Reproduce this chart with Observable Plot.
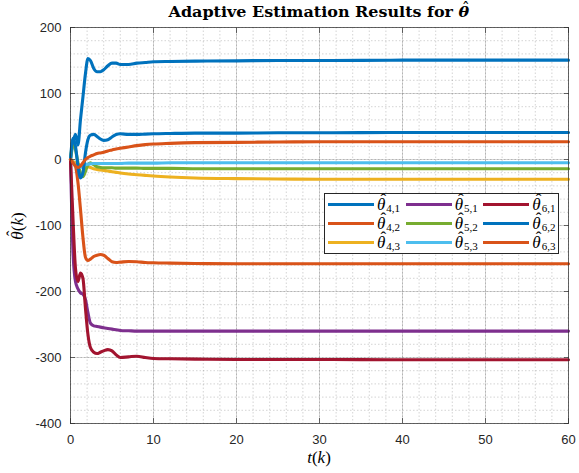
<!DOCTYPE html>
<html><head><meta charset="utf-8">
<script src="https://cdn.jsdelivr.net/npm/d3@7"></script>
<script src="https://cdn.jsdelivr.net/npm/@observablehq/plot@0.6"></script>
<style>
html,body{margin:0;padding:0;background:#fff;}
#fig{position:relative;width:579px;height:473px;overflow:hidden;background:#fff;}
#fig svg{position:absolute;left:0;top:0;}
.title{position:absolute;left:70px;width:498px;top:4px;text-align:center;font:bold 14px "DejaVu Serif",serif;color:#000;white-space:nowrap;}
.title > span.tt{display:inline-block;transform:scaleX(1.14);}
.m{font-family:"Liberation Serif",serif;color:#000;}
.i{font-style:italic;}
.hat{position:relative;display:inline-block;font-style:italic;}
.hat::after{content:"\02C6";position:absolute;left:0.2em;top:-0.3em;font-style:normal;font-weight:normal;}
.xl{position:absolute;left:70px;width:498px;top:448px;text-align:center;font-size:17px;}
.yl{position:absolute;left:18px;top:226px;transform:translate(-50%,-50%) rotate(-90deg);font-size:17px;white-space:nowrap;}
.legend{position:absolute;left:324px;top:193px;width:235px;height:61px;border:1px solid #262626;background:#fff;display:grid;grid-template-rows:repeat(3,1fr);grid-template-columns:repeat(3,1fr);grid-auto-flow:column;box-sizing:border-box;padding:1px 0;}
.item{display:flex;align-items:center;font-size:17px;line-height:1;}
.sw{width:46px;height:3px;margin-left:3px;margin-right:3px;flex:none;}
.sub{font-size:11px;font-style:normal;position:relative;top:4px;margin-left:1px;}
</style>
</head><body>
<div id="fig"></div>
<script>
// time grid (shared by all series)
const T = [0, 0.3, 0.6, 0.9, 1.2, 1.5, 1.8, 2.1, 2.4, 2.8, 3.2, 3.6, 4.0, 4.5, 5.0, 5.5, 6.0, 7, 8, 9, 10, 12, 15, 20, 25, 30, 40, 50, 60];

// series values
const th41 = [0, 25, 38, 22, 60, 95, 130, 153, 150, 138, 133, 133, 136, 142, 146, 146, 144, 144, 146, 147, 148, 148.5, 149, 149.5, 150, 150, 150.5, 150.5, 150.5];
const th42 = [0, -5, -10, -35, -75, -118, -148, -153, -151, -147, -145, -144, -145, -150, -155, -156, -155.5, -154.5, -155, -156, -156.5, -157, -157.5, -158, -158, -158, -158, -158, -158];
const th43 = [0, -3, -5, -7, -9, -10, -10, -11, -12, -14, -15, -16, -16.5, -17.5, -18.5, -19.5, -20.5, -22, -23, -24, -25, -26.5, -28, -29, -29.5, -30, -30, -30, -30];
const th51 = [0, -140, -185, -196, -202, -204, -212, -232, -248, -252, -253, -254, -255, -256, -257, -258, -259, -259.5, -260, -260, -260, -260, -260, -260, -260, -260, -260, -260, -260];
const th52 = [0, 25, 15, -5, -20, -26, -18, -8, -5, -8, -11, -12, -12.5, -12.5, -12.5, -13, -13, -13, -13, -13.5, -13.5, -13.5, -14, -14, -14, -14, -14, -14, -14];
const th53 = [0, -5, -10, -12, -12, -10, -8, -7, -6.5, -6, -6, -6, -6, -6, -6, -6, -6, -5.5, -5.5, -5.5, -5.5, -5, -5, -5, -5, -5, -5, -5, -5];
const th61 = [0, -90, -165, -185, -172, -180, -225, -265, -285, -292, -294, -292, -290, -288, -290, -296, -300, -299, -298, -300, -301.5, -302, -302.5, -303, -303, -303, -303.5, -303.5, -303.5];
const th62 = [0, 32, 20, -10, -28, -20, 10, 30, 37, 38, 35, 31, 29, 30, 34, 38, 39, 38, 38, 38.5, 39, 39.5, 40, 40, 40.5, 40.5, 41, 41, 41];
const th63 = [0, -5, -10, -12, -10, -5, 0, 3, 5, 7, 9, 10, 11, 13, 14.5, 16, 17, 19, 21, 22.5, 23.5, 24.5, 25.5, 26, 26.5, 27, 27, 27, 27];

const seriesValues = [th41, th42, th43, th51, th52, th53, th61, th62, th63];
const seriesSubs = ["4,1", "4,2", "4,3", "5,1", "5,2", "5,3", "6,1", "6,2", "6,3"];
const seriesColors = ["#0072BD", "#D95319", "#EDB120", "#7E2F8E", "#77AC30", "#4DBEEE", "#A2142F", "#0072BD", "#D95319"];

// axis ticks
const xTicks = [0, 10, 20, 30, 40, 50, 60];
const yTicks = [-400, -300, -200, -100, 0, 100, 200];
const xMinor = d3.range(0, 61, 2);
const yMinor = d3.range(-400, 201, 20);

const axisColor = "#262626";
const noText = () => "";

const lines = seriesValues.map((vals, s) =>
  Plot.line(T.map((t, i) => ({t, v: vals[i]})), {
    x: "t", y: "v", stroke: seriesColors[s], strokeWidth: 3.1, curve: "monotone-x"
  })
);

const chart = Plot.plot({
  width: 579, height: 473,
  marginLeft: 70, marginRight: 11, marginTop: 27, marginBottom: 50,
  style: {fontFamily: "'Liberation Sans', Arial, sans-serif", fontSize: "13px", color: axisColor, background: "transparent"},
  x: {domain: [0, 60], label: null},
  y: {domain: [-400, 200], label: null},
  marks: [
    Plot.gridX(xMinor, {stroke: axisColor, strokeOpacity: 0.2, strokeDasharray: "1.5,2"}),
    Plot.gridY(yMinor, {stroke: axisColor, strokeOpacity: 0.2, strokeDasharray: "1.5,2"}),
    Plot.gridX(xTicks, {stroke: axisColor, strokeOpacity: 0.18}),
    Plot.gridY(yTicks, {stroke: axisColor, strokeOpacity: 0.18}),
    ...lines,
    Plot.frame({stroke: axisColor, strokeOpacity: 0.65}),
    Plot.axisX({ticks: xTicks, anchor: "bottom", tickSize: 0, tickPadding: 11, tickFormat: d => String(d), label: null, fill: axisColor}),
    Plot.axisY({ticks: yTicks, anchor: "left", tickSize: 0, tickPadding: 9, tickFormat: d => String(d), label: null, fill: axisColor}),
    Plot.axisX({ticks: xTicks, anchor: "bottom", tickSize: 5, dy: -5, tickFormat: noText, label: null, stroke: axisColor, strokeOpacity: 0.65}),
    Plot.axisX({ticks: xTicks, anchor: "top", tickSize: 5, dy: 5, tickFormat: noText, label: null, stroke: axisColor, strokeOpacity: 0.65}),
    Plot.axisY({ticks: yTicks, anchor: "left", tickSize: 5, dx: 5, tickFormat: noText, label: null, stroke: axisColor, strokeOpacity: 0.65}),
    Plot.axisY({ticks: yTicks, anchor: "right", tickSize: 5, dx: -5, tickFormat: noText, label: null, stroke: axisColor, strokeOpacity: 0.65})
  ]
});

const fig = document.getElementById("fig");
fig.appendChild(chart);

const hat = `<span class="hat">\u03B8</span>`;
const title = document.createElement("div");
title.className = "title";
title.innerHTML = `<span class="tt">Adaptive Estimation Results for ${hat}</span>`;
fig.appendChild(title);

const xl = document.createElement("div");
xl.className = "xl m";
xl.innerHTML = `<span class="i">t</span>(<span class="i">k</span>)`;
fig.appendChild(xl);

const yl = document.createElement("div");
yl.className = "yl m";
yl.innerHTML = `${hat}(<span class="i">k</span>)`;
fig.appendChild(yl);

const legend = document.createElement("div");
legend.className = "legend m";
seriesSubs.forEach((sub, s) => {
  const item = document.createElement("div");
  item.className = "item";
  item.innerHTML = `<span class="sw" style="background:${seriesColors[s]}"></span>${hat}<span class="sub">${sub}</span>`;
  legend.appendChild(item);
});
fig.appendChild(legend);
</script>
</body></html>
